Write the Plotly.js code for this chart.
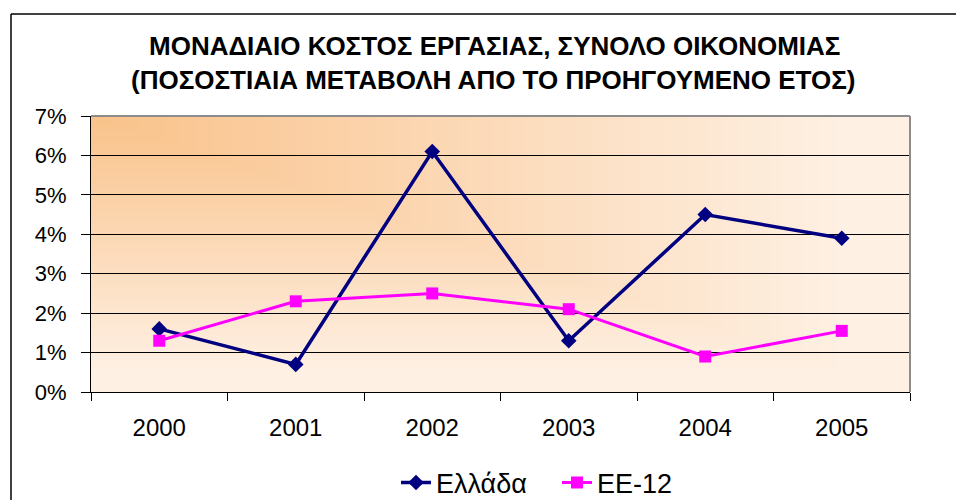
<!DOCTYPE html>
<html>
<head>
<meta charset="utf-8">
<script src="https://cdn.plot.ly/plotly-3.0.1.min.js"></script>
<style>
  body { margin: 0; background: #fff; }
  #chart { width: 956px; height: 500px; }
</style>
</head>
<body>
<div id="chart"></div>
<script>
const years = ['2000', '2001', '2002', '2003', '2004', '2005'];
const greece = [1.6, 0.7, 6.1, 1.3, 4.5, 3.9];
const eu12 = [1.3, 2.3, 2.5, 2.1, 0.9, 1.55];
const yTicks = [0, 1, 2, 3, 4, 5, 6, 7];
const yTickText = ['0%', '1%', '2%', '3%', '4%', '5%', '6%', '7%'];

const titleLine1 = 'ΜΟΝΑΔΙΑΙΟ ΚΟΣΤΟΣ ΕΡΓΑΣΙΑΣ, ΣΥΝΟΛΟ ΟΙΚΟΝΟΜΙΑΣ';
const titleLine2 = '(ΠΟΣΟΣΤΙΑΙΑ ΜΕΤΑΒΟΛΗ ΑΠΟ ΤΟ ΠΡΟΗΓΟΥΜΕΝΟ ΕΤΟΣ)';

const W = 956, H = 500;
const margin = { l: 91, r: 46, t: 116, b: 108, autoexpand: false };
const plotW = W - margin.l - margin.r;
const plotH = H - margin.t - margin.b;

// pixel -> paper helpers for the frame, title and legend
const px = (x) => (x - margin.l) / plotW;
const py = (y) => (H - margin.b - y) / plotH;

// corner gradient like the excel fill (orange at top-left)
function cornerGradient(w, h) {
  const c = document.createElement('canvas');
  c.width = w;
  c.height = h;
  const ctx = c.getContext('2d');
  const img = ctx.createImageData(w, h);
  const from = [249, 194, 138];
  const to = [254, 240, 227];
  for (let y = 0; y < h; y++) {
    for (let x = 0; x < w; x++) {
      let t = Math.max(x / w, y / h) / 0.92;
      if (t > 1) t = 1;
      const i = (y * w + x) * 4;
      img.data[i] = from[0] + (to[0] - from[0]) * t;
      img.data[i + 1] = from[1] + (to[1] - from[1]) * t;
      img.data[i + 2] = from[2] + (to[2] - from[2]) * t;
      img.data[i + 3] = 255;
    }
  }
  ctx.putImageData(img, 0, 0);
  return c.toDataURL();
}

const font = 'Liberation Sans, Arial, sans-serif';

const traceGreece = {
  x: years,
  y: greece,
  type: 'scatter',
  mode: 'lines+markers',
  name: 'Ελλάδα',
  line: { color: '#000080', width: 3.5 },
  marker: { symbol: 'diamond', size: 12, color: '#000080' }
};

const traceEU = {
  x: years,
  y: eu12,
  type: 'scatter',
  mode: 'lines+markers',
  name: 'ΕΕ-12',
  line: { color: '#FF00FF', width: 3 },
  marker: { symbol: 'square', size: 12, color: '#FF00FF' }
};

const layout = {
  width: W,
  height: H,
  margin: margin,
  paper_bgcolor: '#ffffff',
  plot_bgcolor: 'rgba(0,0,0,0)',
  font: { family: font, color: '#000' },
  showlegend: true,
  legend: {
    orientation: 'h',
    x: px(557),
    xanchor: 'center',
    y: py(483),
    yanchor: 'middle',
    entrywidth: 116,
    font: { size: 27, family: font },
    bgcolor: 'rgba(0,0,0,0)'
  },
  xaxis: {
    type: 'category',
    range: [-0.5, 5.5],
    tickson: 'boundaries',
    ticks: 'outside',
    ticklen: 8,
    tickcolor: '#000',
    showline: true,
    linecolor: '#000',
    linewidth: 1,
    showgrid: false,
    zeroline: false,
    ticklabelstandoff: 14,
    tickfont: { size: 24, family: font },
    fixedrange: true
  },
  yaxis: {
    range: [0, 7],
    tickvals: yTicks,
    ticktext: yTickText,
    ticks: 'outside',
    ticklen: 9,
    tickcolor: '#000',
    showline: true,
    linecolor: '#000',
    linewidth: 1,
    showgrid: true,
    gridcolor: '#000',
    gridwidth: 1,
    zeroline: false,
    ticklabelstandoff: 10,
    tickfont: { size: 22, family: font },
    fixedrange: true
  },
  images: [{
    source: cornerGradient(plotW, plotH),
    xref: 'paper', yref: 'paper',
    x: 0, y: 1, sizex: 1, sizey: 1,
    xanchor: 'left', yanchor: 'top',
    sizing: 'stretch',
    layer: 'below'
  }],
  shapes: [
    // grey plot border top and right
    { type: 'line', xref: 'paper', yref: 'paper', x0: 0, x1: 1, y0: 1, y1: 1, line: { color: '#8c8c8c', width: 2 } },
    { type: 'line', xref: 'paper', yref: 'paper', x0: 1, x1: 1, y0: 0, y1: 1, line: { color: '#8c8c8c', width: 2 } },
    // outer chart frame (cut off at right and bottom)
    { type: 'line', xref: 'paper', yref: 'paper', x0: px(11), x1: px(960), y0: py(14), y1: py(14), line: { color: '#000', width: 1.5 } },
    { type: 'line', xref: 'paper', yref: 'paper', x0: px(11), x1: px(11), y0: py(14), y1: py(505), line: { color: '#000', width: 1.5 } }
  ],
  annotations: [
    { text: '<b>' + titleLine1 + '</b>', xref: 'paper', yref: 'paper', x: px(494), y: py(46), xanchor: 'center', yanchor: 'middle', showarrow: false, font: { size: 26, family: font } },
    { text: '<b>' + titleLine2 + '</b>', xref: 'paper', yref: 'paper', x: px(493), y: py(80), xanchor: 'center', yanchor: 'middle', showarrow: false, font: { size: 26, family: font } }
  ]
};

Plotly.newPlot('chart', [traceGreece, traceEU], layout, { displayModeBar: false, staticPlot: true });
</script>
</body>
</html>
